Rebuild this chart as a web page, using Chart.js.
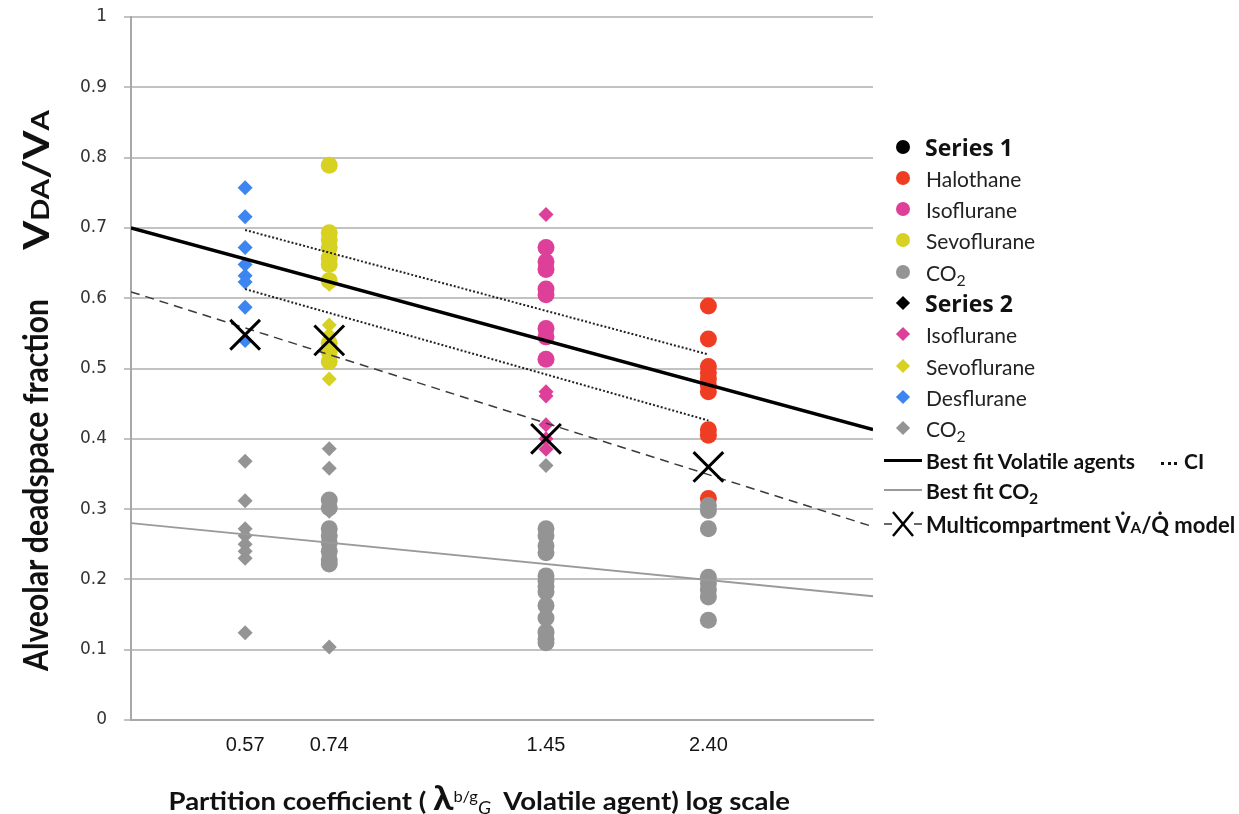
<!DOCTYPE html>
<html>
<head>
<meta charset="utf-8">
<title>Alveolar deadspace fraction vs partition coefficient</title>
<script src="https://cdn.jsdelivr.net/npm/chart.js@4.4.1/dist/chart.umd.min.js"></script>
<style>
  html, body { margin: 0; padding: 0; background: #fff; }
  #wrap { position: relative; width: 1239px; height: 814px; overflow: hidden; }
  #chart { position: absolute; left: 0; top: 0; }
  .rot { position: absolute; white-space: nowrap; font-family: Lato, "Open Sans", sans-serif; font-weight: 700; color: #111; line-height: 1; }
  .sm { font-size: 0.7em; }
  #xtitle { position: absolute; white-space: nowrap; font-family: Lato, "Open Sans", sans-serif; font-weight: 700; color: #111; font-size: 25px; line-height: 1; }
  #xtitle .lam { font-size: 1.35em; }
  #xtitle sup { font-size: 0.6em; font-weight: 400; vertical-align: 0.55em; }
  #xtitle sub { font-size: 0.7em; font-weight: 400; font-style: italic; vertical-align: -0.25em; }
  .lg { position: absolute; left: 883px; height: 30px; display: flex; align-items: center; white-space: nowrap; color: #222; }
  .lg .mk { width: 40px; display: flex; justify-content: center; align-items: center; }
  .lg .txt { font-family: Lato, "Open Sans", sans-serif; font-size: 21px; margin-left: 3px; }
  .lg .hdr { font-family: "Open Sans", Lato, sans-serif; font-weight: 700; font-size: 23px; color: #111; margin-left: 2px; }
  .lg .fit { font-family: Lato, "Open Sans", sans-serif; font-weight: 700; font-size: 21px; color: #111; margin-left: 3px; }
  .dot { width: 14px; height: 14px; border-radius: 50%; }
  .dia { width: 10px; height: 10px; transform: rotate(45deg); }
  .lg sub { font-size: 0.75em; vertical-align: -0.3em; line-height: 0; }
  .ci { display: inline-block; width: 16px; border-top: 3px dotted #111; vertical-align: middle; margin: 0 7px 0 26px; }
</style>
</head>
<body>
<div id="wrap">
  <canvas id="chart" width="1239" height="814"></canvas>

  <div class="rot" id="ytitle1">Alveolar deadspace fraction</div>
  <div class="rot" id="ytitle2">V<span class="sm">DA</span>/V<span class="sm">A</span></div>
  <div id="xtitle">Partition coefficient ( <span class="lam">λ</span><sup>b/g</sup><sub>G</sub>&nbsp; Volatile agent) log scale</div>

  <div class="lg" style="top:132px"><div class="mk"><div class="dot" style="background:#000"></div></div><span class="hdr">Series 1</span></div>
  <div class="lg" style="top:163px"><div class="mk"><div class="dot" style="background:#ef3d24"></div></div><span class="txt">Halothane</span></div>
  <div class="lg" style="top:194px"><div class="mk"><div class="dot" style="background:#de3f98"></div></div><span class="txt">Isoflurane</span></div>
  <div class="lg" style="top:225px"><div class="mk"><div class="dot" style="background:#d7d222"></div></div><span class="txt">Sevoflurane</span></div>
  <div class="lg" style="top:257px"><div class="mk"><div class="dot" style="background:#949494"></div></div><span class="txt">CO<sub>2</sub></span></div>
  <div class="lg" style="top:288px"><div class="mk"><div class="dia" style="background:#000"></div></div><span class="hdr">Series 2</span></div>
  <div class="lg" style="top:319px"><div class="mk"><div class="dia" style="background:#de3f98"></div></div><span class="txt">Isoflurane</span></div>
  <div class="lg" style="top:351px"><div class="mk"><div class="dia" style="background:#d7d222"></div></div><span class="txt">Sevoflurane</span></div>
  <div class="lg" style="top:382px"><div class="mk"><div class="dia" style="background:#3d85f0"></div></div><span class="txt">Desflurane</span></div>
  <div class="lg" style="top:413px"><div class="mk"><div class="dia" style="background:#949494"></div></div><span class="txt">CO<sub>2</sub></span></div>
  <div class="lg" style="top:445px"><div class="mk"><div style="width:38px;border-top:3px solid #000"></div></div><span class="fit">Best fit Volatile agents<span class="ci"></span>CI</span></div>
  <div class="lg" style="top:475px"><div class="mk"><div style="width:38px;border-top:2px solid #9a9a9a"></div></div><span class="fit">Best fit CO<sub>2</sub></span></div>
  <div class="lg" style="top:509px"><div class="mk">
    <svg width="40" height="30" viewBox="0 0 40 30"><line x1="1" y1="15" x2="9" y2="15" stroke="#333" stroke-width="1.5"/><line x1="31" y1="15" x2="39" y2="15" stroke="#333" stroke-width="1.5"/><line x1="10" y1="3" x2="30" y2="27" stroke="#000" stroke-width="2.5"/><line x1="30" y1="3" x2="10" y2="27" stroke="#000" stroke-width="2.5"/></svg>
  </div><span class="fit" style="font-size:22px">Multicompartment V̇<span class="sm">A</span>/Q̇ model</span></div>
</div>

<script>
// Partition coefficients of the agents (x positions, log scale)
const xCategories = [0.57, 0.74, 1.45, 2.40];
const xMin = 0.4;
const xMax = 4;
const yTicks = [0, 0.1, 0.2, 0.3, 0.4, 0.5, 0.6, 0.7, 0.8, 0.9, 1];

// Series 1 (circles)
const halothaneS1 = [0.589, 0.542, 0.503, 0.494, 0.485, 0.476, 0.467, 0.413, 0.405, 0.315];          // at 2.40
const isofluraneS1 = [0.672, 0.652, 0.641, 0.613, 0.605, 0.557, 0.545, 0.513];                      // at 1.45
const sevofluraneS1 = [0.789, 0.693, 0.683, 0.672, 0.657, 0.648, 0.625, 0.536, 0.524, 0.510];       // at 0.74
const co2S1_074 = [0.313, 0.302, 0.272, 0.262, 0.252, 0.240, 0.228, 0.222];
const co2S1_145 = [0.272, 0.262, 0.248, 0.238, 0.205, 0.198, 0.190, 0.182, 0.163, 0.145, 0.125, 0.115, 0.110];
const co2S1_240 = [0.305, 0.298, 0.272, 0.203, 0.194, 0.185, 0.175, 0.142];

// Series 2 (diamonds)
const isofluraneS2 = [0.719, 0.550, 0.467, 0.461, 0.420, 0.400, 0.385];                            // at 1.45
const sevofluraneS2 = [0.620, 0.562, 0.548, 0.485];                                                 // at 0.74
const desfluraneS2 = [0.757, 0.716, 0.672, 0.648, 0.632, 0.623, 0.587, 0.540];                      // at 0.57
const co2S2_057 = [0.368, 0.312, 0.272, 0.262, 0.250, 0.240, 0.230, 0.124];
const co2S2_074 = [0.386, 0.358, 0.297, 0.104];
const co2S2_145 = [0.362];

// Multicompartment VA/Q model predictions at each agent
const modelY = [0.548, 0.540, 0.400, 0.360];

// Fitted lines: [y at xMin, y at xMax]
const bestFitVolatile = [0.700, 0.413];
const bestFitCO2 = [0.280, 0.176];
const modelTrend = [0.609, 0.275];
// Confidence interval bounds: [y at 0.57, y at 2.40]
const ciUpper = [0.697, 0.520];
const ciLower = [0.613, 0.426];

const col = {
  red: '#ef3d24', pink: '#de3f98', yellow: '#d7d222', gray: '#949494', blue: '#3d85f0'
};

const at = (x, ys) => ys.map(y => ({ x, y }));

function pts(label, data, color, style, order) {
  return {
    label, data, order,
    pointStyle: style,
    pointRadius: style === 'circle' ? 8.5 : 7.5,
    pointBackgroundColor: color,
    pointBorderWidth: 0,
    pointBorderColor: color,
    showLine: false
  };
}
function line(label, data, color, width, dash, order) {
  return {
    label, data, order,
    showLine: true, pointRadius: 0,
    borderColor: color, borderWidth: width, borderDash: dash,
    fill: false
  };
}

const datasets = [
  {
    label: 'Multicompartment model',
    data: xCategories.map((x, i) => ({ x, y: modelY[i] })),
    order: 0, showLine: false,
    pointStyle: 'crossRot', pointRadius: 21,
    pointBorderColor: '#000', pointBorderWidth: 3
  },
  line('Best fit volatile agents', [{ x: xMin, y: bestFitVolatile[0] }, { x: xMax, y: bestFitVolatile[1] }], '#000', 3.5, [], 1),
  line('Best fit CO2', [{ x: xMin, y: bestFitCO2[0] }, { x: xMax, y: bestFitCO2[1] }], '#9a9a9a', 1.8, [], 1),
  line('Model trend', [{ x: xMin, y: modelTrend[0] }, { x: xMax, y: modelTrend[1] }], '#3a3a3a', 1.5, [9, 6], 1),
  line('CI upper', [{ x: xCategories[0], y: ciUpper[0] }, { x: xCategories[3], y: ciUpper[1] }], '#222', 2, [2, 2], 1),
  line('CI lower', [{ x: xCategories[0], y: ciLower[0] }, { x: xCategories[3], y: ciLower[1] }], '#222', 2, [2, 2], 1),
  pts('CO2 (series 1)', [...at(xCategories[1], co2S1_074), ...at(xCategories[2], co2S1_145), ...at(xCategories[3], co2S1_240)], col.gray, 'circle', 2),
  pts('CO2 (series 2)', [...at(xCategories[0], co2S2_057), ...at(xCategories[1], co2S2_074), ...at(xCategories[2], co2S2_145)], col.gray, 'rectRot', 2),
  pts('Halothane', at(xCategories[3], halothaneS1), col.red, 'circle', 3),
  pts('Isoflurane (series 1)', at(xCategories[2], isofluraneS1), col.pink, 'circle', 3),
  pts('Isoflurane (series 2)', at(xCategories[2], isofluraneS2), col.pink, 'rectRot', 3),
  pts('Sevoflurane (series 1)', at(xCategories[1], sevofluraneS1), col.yellow, 'circle', 3),
  pts('Sevoflurane (series 2)', at(xCategories[1], sevofluraneS2), col.yellow, 'rectRot', 3),
  pts('Desflurane', at(xCategories[0], desfluraneS2), col.blue, 'rectRot', 3)
];

const chart = new Chart(document.getElementById('chart'), {
  type: 'scatter',
  data: { datasets },
  options: {
    responsive: false,
    animation: false,
    events: [],
    layout: { autoPadding: false, padding: { left: 0, right: 366, top: 17, bottom: 0 } },
    plugins: { legend: { display: false }, tooltip: { enabled: false } },
    scales: {
      x: {
        type: 'logarithmic', min: xMin, max: xMax,
        afterBuildTicks: s => { s.ticks = xCategories.map(v => ({ value: v })); },
        afterFit: s => { s.height = 94; s.paddingLeft = 0; s.paddingRight = 0; },
        ticks: {
          autoSkip: false, maxRotation: 0, padding: 13,
          color: '#151515',
          font: { family: '"Liberation Sans", Arial, sans-serif', size: 20 },
          callback: v => Number(v).toFixed(2)
        },
        grid: { display: false, drawTicks: false },
        border: { display: true, color: '#a8a8a8', width: 2 }
      },
      y: {
        min: 0, max: 1,
        afterBuildTicks: s => { s.ticks = yTicks.map(v => ({ value: v })); },
        afterFit: s => { s.width = 131; s.paddingTop = 0; s.paddingBottom = 0; },
        ticks: {
          padding: 17, color: '#333',
          font: { family: '"DejaVu Sans", Verdana, sans-serif', size: 17 },
          callback: v => String(Math.round(v * 10) / 10)
        },
        grid: { color: '#c2c2c2', lineWidth: 2, tickLength: 7 },
        border: { display: true, color: '#a8a8a8', width: 2 }
      }
    }
  }
});

// Axis titles: fit to their spans along the axes
function place(el, cx, cy, target, rotate) {
  const w = el.offsetWidth;
  const s = target / w;
  el.style.left = (cx - el.offsetWidth / 2) + 'px';
  el.style.top = (cy - el.offsetHeight / 2) + 'px';
  el.style.transform = (rotate ? 'rotate(-90deg) ' : '') + 'scale(' + s + ',1)';
  el.style.transformOrigin = '50% 50%';
}
const y1 = document.getElementById('ytitle1');
y1.style.fontSize = '34px';
place(y1, 35, 485, 372, true);
const y2 = document.getElementById('ytitle2');
y2.style.fontSize = '36px';
place(y2, 35, 180, 140, true);
place(document.getElementById('xtitle'), 479, 799, 622, false);
</script>
</body>
</html>
